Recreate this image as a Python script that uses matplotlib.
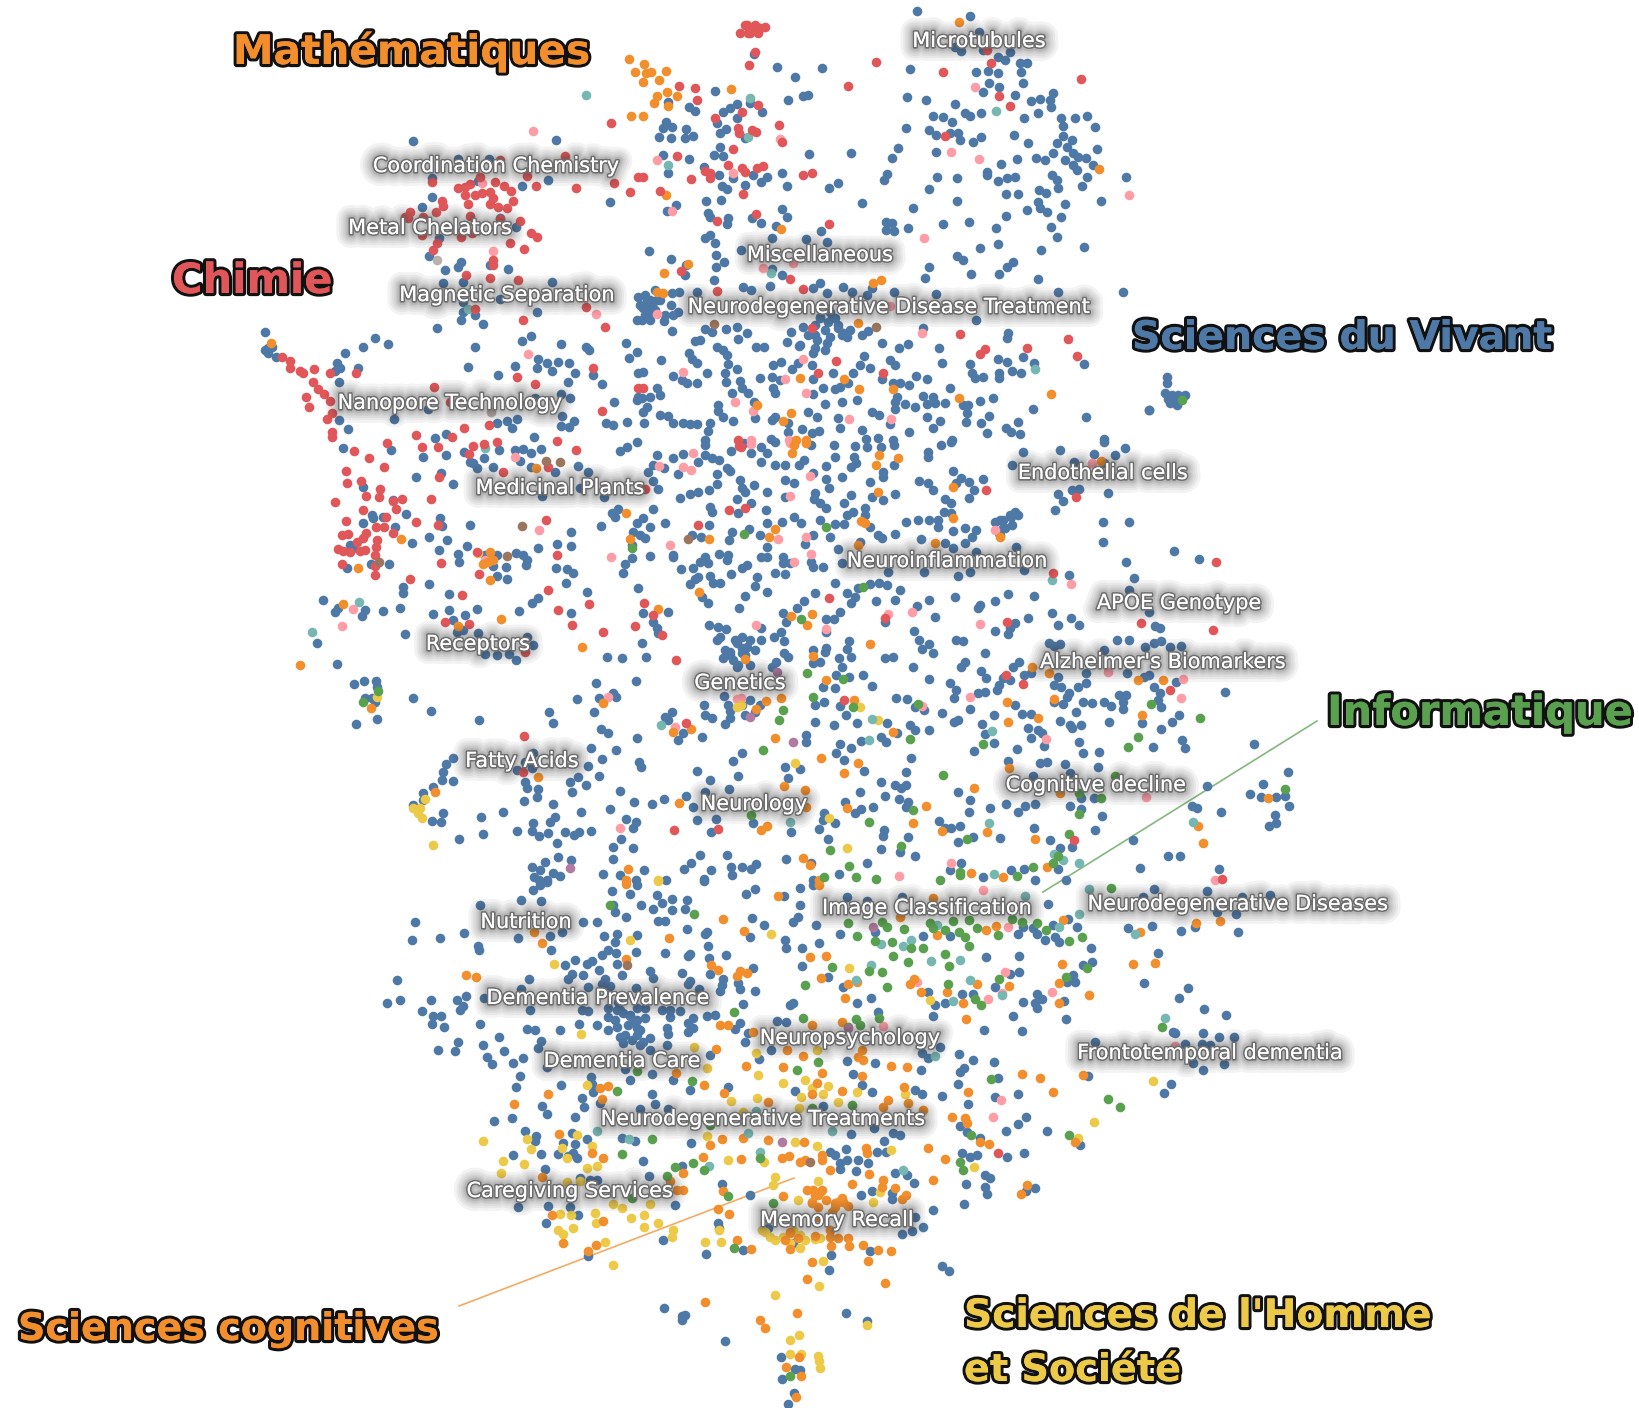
import matplotlib
matplotlib.use("Agg")
import matplotlib.pyplot as plt
import matplotlib.patheffects as pe

# ------------------------------ Data --------------------------------
# Points are read off six windows of the map: each list holds (x, y) as read
# in its window, WINDOWS says how to bring it back to map units.

WINDOWS = {
    "a": dict(ox=150, oy=0, sx=3, sy=3, xmin=0, xmax=640, ymin=0, ymax=440),
    "b": dict(ox=640, oy=0, sx=3, sy=3, xmin=640, xmax=1639, ymin=0, ymax=440),
    "c": dict(ox=240, oy=440, sx=3, sy=3, xmin=0, xmax=740, ymin=440, ymax=880),
    "d": dict(ox=740, oy=440, sx=2.8, sy=3, xmin=740, xmax=1639, ymin=440, ymax=880),
    "e": dict(ox=360, oy=880, sx=3, sy=2.97, xmin=0, xmax=780, ymin=880, ymax=1408),
    "e2": dict(ox=360, oy=880, sx=3, sy=2.97, xmin=780, xmax=1639, ymin=1290, ymax=1408),
    "f": dict(ox=780, oy=840, sx=3, sy=3, xmin=780, xmax=1639, ymin=880, ymax=1290),
    "g": dict(ox=1100, oy=280, sx=3, sy=3, xmin=0, xmax=1639, ymin=0, ymax=1408),
    "m": dict(ox=0, oy=0, sx=1, sy=1, xmin=0, xmax=1639, ymin=0, ymax=1408),
}

blue_a = [(790,423),(1218,420),(925,478),(1018,478),(845,535),(985,543),(1195,541),(1116,558),(845,592),(816,620),(1380,605),(1050,655),(1097,680),(868,714),(838,767),(932,785),(925,800),(885,810),(1020,795),(1074,808),(878,850),(938,845),(1206,847),(1050,897),(940,905),(940,937),(975,944),(933,960),(1000,973),(860,985),(1161,935),(345,995),(675,1014),(713,1031),(640,1040),(585,1058),(355,1045),(345,1050),(365,1040),(355,1060),(378,1072),(560,1090),(555,1112),(570,1105),(625,1103),(568,1145),(976,1040),(1115,1024),(1143,1008),(1234,1033),(1308,1042),(1316,1050),(1428,1029),(1461,1056),(1436,1075),(1165,1078),(1190,1090),(1160,1105),(1205,1112),(1225,1085),(1257,1090),(955,1100),(1045,1125),(1095,1098),(1275,1120),(1255,1145),(1330,1125),(1355,1153),(1391,1207),(1260,1195),(1232,1182),(1235,1248),(1272,1262),(1232,1277),(1258,1280),(1100,1258),(1072,1262),(1040,1270),(1085,1285),(566,1259),(594,1288),(732,1258),(855,1314),(888,1303),(1151,1312),(833,1228),(1155,1195),(1367,1270),(1390,1275),(1430,1265),(1462,1322),(1430,1340),(1410,1345),(578,1342),(720,1347),(1050,1345),(1095,1347),(1170,1345),(1465,890),(1460,960),(1465,1118),(1460,1200),(1465,1190)]
red_a = [(1382,370),(1245,468),(1050,480),(845,545),(990,530),(925,565),(945,560),(960,553),(1036,546),(1063,558),(1082,572),(945,585),(975,585),(995,580),(1020,575),(1030,595),(1090,602),(955,612),(1020,612),(1045,622),(1072,625),(875,602),(880,618),(858,637),(780,635),(765,650),(775,655),(820,652),(960,648),(1050,658),(1110,664),(815,705),(932,712),(965,700),(1143,700),(1162,712),(1080,728),(1122,748),(860,730),(850,750),(1030,780),(1028,795),(947,824),(1020,834),(1105,840),(975,927),(1120,960),(1365,982),(1308,920),(1158,557),(1278,563),(1130,528),(1392,550),(1465,532),(1441,576),(395,1070),(420,1082),(420,1105),(450,1112),(458,1118),(492,1107),(540,1120),(618,1118),(488,1145),(505,1167),(522,1182),(468,1190),(540,1202),(478,1222),(545,1238),(530,1257),(545,1295),(545,1312),(852,1160),(1328,1105),(1102,1130),(1155,1152),(1465,1165),(1355,1233),(1017,1275),(942,1285),(798,1305),(907,1312),(708,1328),(815,1340),(862,1338),(968,1338),(1002,1332),(1042,1325),(1222,1320),(900,1205)]
orange_a = [(1436,177),(1455,215),(1444,347),(362,1028)]
teal_a = [(1307,284),(953,927)]
pink_a = [(1148,394),(995,550),(1030,752),(1338,942),(1135,1062)]
gray_a = [(862,781),(1022,1237)]

blue_b = [(830,34),(990,47),(1017,95),(945,140),(963,153),(1030,150),(1110,155),(1075,170),(1095,180),(1140,188),(1160,188),(342,163),(410,200),(545,204),(809,208),(1008,215),(1045,212),(1075,218),(1143,215),(464,232),(1148,250),(1048,250),(1078,262),(1030,275),(225,273),(490,288),(505,284),(443,300),(800,292),(859,299),(1125,285),(1240,278),(1172,302),(1200,298),(1230,300),(1232,322),(1195,340),(85,305),(148,320),(165,332),(290,312),(270,325),(250,335),(330,310),(365,335),(880,348),(910,352),(945,313),(935,365),(975,340),(990,348),(1023,340),(1153,353),(1262,355),(1305,353),(1340,348),(1268,378),(1366,380),(290,353),(232,370),(78,365),(70,385),(97,380),(138,388),(56,412),(93,415),(135,415),(158,407),(258,387),(240,400),(315,415),(240,440),(797,383),(867,390),(888,405),(930,398),(955,400),(960,420),(1023,412),(1122,406),(1000,427),(1165,430),(1270,408),(1297,420),(1252,430),(1282,442),(1372,448),(222,465),(250,468),(70,465),(148,478),(508,463),(634,458),(775,443),(755,474),(888,456),(1238,458),(1300,460),(1315,470),(1188,475),(1214,480),(1132,478),(1082,493),(1275,480),(1338,475),(1300,495),(1360,495),(1310,510),(193,500),(85,520),(238,525),(278,535),(338,525),(427,520),(380,532),(362,547),(740,522),(733,540),(892,530),(950,533),(1040,515),(1040,525),(1235,525),(1250,540),(1340,532),(1457,530),(1075,543),(1100,535),(1125,530),(245,558),(262,568),(316,555),(440,557),(594,548),(568,565),(866,568),(1255,563),(1327,557),(1097,583),(1135,581),(1198,570),(1218,580),(199,602),(243,600),(665,608),(951,603),(1193,605),(1275,611),(1382,602),(107,615),(80,634),(820,624),(425,628),(1200,625),(1220,637),(1160,631),(205,640),(210,650),(263,655),(260,672),(335,655),(362,668),(440,652),(1097,649),(1264,652),(738,665),(755,668),(738,690),(762,692),(805,685),(908,671),(988,667),(1068,685),(1232,680),(407,678),(543,693),(210,705),(195,715),(225,730),(395,715),(497,718),(560,725),(1250,712),(1019,745),(1075,733),(1332,741),(1203,750),(26,752),(302,750),(227,765),(92,776),(950,767),(968,779),(253,785),(228,800),(1120,786),(1100,802),(866,800),(139,796),(135,825),(395,808),(425,826),(222,840),(855,833),(994,822),(1076,822),(1194,837),(1449,876),(1254,875),(310,862),(333,870),(389,858),(540,850),(520,865),(560,878),(610,860),(635,875),(695,865),(680,885),(761,875),(888,882),(95,880),(118,875),(170,877),(20,900),(40,905),(10,925),(30,920),(50,900),(25,945),(93,915),(115,935),(100,945),(5,960),(72,964),(96,992),(540,950),(575,955),(595,975),(610,1000),(850,985),(1008,960),(1105,1000),(1100,1015),(195,988),(215,995),(258,988),(291,982),(320,1000),(295,1018),(452,995),(490,982),(683,992),(665,1005),(570,1010),(620,1012),(530,1020),(560,1030),(440,1027),(478,1037),(727,1029),(805,1031),(777,1044),(896,1045),(165,1024),(180,1020),(230,1040),(250,1050),(262,1065),(348,1040),(372,1040),(525,1045),(555,1050),(148,1060),(155,1078),(172,1090),(62,1079),(265,1093),(292,1108),(400,1095),(422,1085),(455,1108),(475,1090),(515,1095),(520,1060),(672,1068),(750,1080),(765,1095),(905,1090),(990,1092),(1073,1077),(1100,1085),(1150,1070),(1183,1088),(1332,1092),(660,1095),(690,1105),(200,1118),(100,1127),(125,1140),(140,1150),(170,1150),(255,1120),(258,1145),(300,1142),(360,1135),(395,1130),(420,1140),(580,1118),(640,1118),(725,1138),(827,1129),(860,1138),(995,1120),(1005,1135),(1030,1130),(1078,1118),(1078,1135),(1115,1113),(1143,1120),(10,1115),(50,1165),(305,1165),(400,1165),(405,1180),(520,1138),(520,1182),(550,1165),(585,1168),(600,1160),(625,1150),(758,1150),(780,1150),(807,1155),(929,1163),(60,1185),(30,1190),(5,1195),(325,1178),(275,1180),(850,1187),(880,1190),(605,1205),(650,1200),(772,1190),(765,1205),(765,1228),(795,1213),(825,1222),(860,1212),(885,1208),(915,1208),(970,1215),(985,1215),(1020,1203),(1060,1195),(235,1215),(235,1232),(342,1205),(555,1212),(20,1220),(10,1235),(1180,1228),(1338,1250),(1528,1230),(980,1240),(978,1265),(60,1245),(85,1248),(250,1252),(405,1250),(530,1250),(503,1235),(697,1235),(716,1245),(862,1250),(1047,1248),(1022,1268),(1135,1266),(12,1270),(100,1270),(130,1270),(150,1273),(170,1272),(210,1268),(278,1263),(345,1255),(395,1260),(595,1255),(445,1270),(900,1262),(880,1283),(205,1292),(445,1295),(487,1287),(515,1298),(538,1293),(600,1285),(665,1290),(750,1272),(807,1296),(1042,1298),(1098,1283),(1112,1295),(1141,1303),(678,1318),(713,1315),(760,1319),(195,1319),(392,1318),(1392,1318),(935,1319)]
red_b = [(320,75),(340,85),(360,85),(300,100),(330,100),(345,155),(328,195),(707,187),(910,215),(625,258),(118,258),(165,265),(172,300),(1053,190),(1040,150),(1077,288),(1110,318),(1322,236),(355,315),(305,337),(225,355),(418,376),(293,385),(298,400),(335,390),(348,397),(425,425),(915,408),(280,447),(112,468),(8,532),(195,513),(210,520),(210,535),(152,537),(265,495),(305,505),(315,515),(350,505),(368,498),(490,525),(517,520),(60,573),(310,582),(347,642),(232,663),(568,672),(123,813),(450,836),(230,872),(488,867),(515,983),(961,1002),(1283,1016),(1020,1062),(1035,1048),(1162,1044),(1312,1069),(587,1083),(535,1120),(730,1120),(8,1165),(295,1319)]
orange_b = [(13,193),(18,218),(33,217),(79,212),(57,240),(8,247),(82,275),(50,287),(112,287),(43,310),(85,318),(8,347),(272,268),(956,66),(1377,507),(77,585),(422,687),(143,793),(73,820),(723,840),(698,850),(50,875),(68,880),(655,970),(480,1133),(658,1167),(760,1168),(958,1193),(1232,1181),(352,1215),(453,1240),(428,1262),(468,1319),(498,1319),(612,1138)]
teal_b = [(330,293),(83,495),(1068,333),(325,412),(392,818),(1185,1107)]
pink_b = [(50,480),(420,417),(280,518),(1005,260),(932,456),(1016,478),(1468,586),(95,632),(851,715),(370,805),(458,790),(50,942),(845,1000),(490,1076),(130,1117),(435,1137),(285,1207),(338,1232),(497,1178),(753,1258),(628,1258),(448,1319),(333,1319),(750,917)]
brown_b = [(222,972),(707,982)]

blue_c = [(308,25),(453,30),(548,50),(618,45),(673,37),(732,55),(778,30),(825,30),(850,28),(872,40),(902,28),(1140,32),(1162,20),(1192,5),(1250,45),(1330,42),(1396,15),(1472,32),(1300,55),(1395,45),(1375,65),(1415,55),(1437,60),(690,65),(700,70),(840,62),(872,80),(710,85),(760,80),(945,95),(1013,78),(1045,95),(1240,75),(1225,97),(1272,85),(1313,102),(1460,85),(1470,92),(1430,103),(603,100),(527,111),(640,133),(370,140),(1240,122),(1254,148),(1320,173),(1350,163),(1373,157),(1406,150),(1432,132),(1500,115),(1490,178),(905,168),(1093,172),(1020,145),(458,180),(1410,200),(1415,215),(1495,220),(1240,208),(1135,207),(1115,218),(1125,232),(395,225),(400,235),(497,222),(600,235),(605,258),(370,248),(430,232),(690,256),(1082,259),(1275,248),(1190,250),(1210,235),(1230,260),(1180,275),(1200,285),(1215,295),(1407,255),(465,262),(992,275),(1475,275),(1383,292),(1355,285),(1467,300),(568,290),(620,299),(515,310),(1175,315),(950,312),(993,318),(680,318),(895,325),(596,329),(330,315),(340,325),(655,343),(658,367),(735,345),(770,345),(828,340),(850,345),(860,360),(858,375),(1229,349),(1298,345),(1300,350),(1436,342),(1465,345),(1460,360),(1395,350),(1175,355),(1155,372),(1380,365),(1405,370),(392,372),(447,373),(322,385),(760,378),(798,382),(948,385),(980,388),(1000,400),(1148,398),(1322,386),(1360,383),(1375,410),(1510,385),(1525,375),(1473,402),(770,408),(800,417),(978,430),(1410,408),(1365,418),(1350,432),(1420,430),(1440,428),(567,432),(490,442),(490,460),(1195,445),(628,461),(1040,457),(1545,438),(1515,468),(895,475),(877,489),(248,479),(285,515),(295,505),(375,510),(365,527),(429,513),(480,505),(628,509),(712,508),(837,513),(994,519),(1285,515),(1210,518),(578,523),(640,540),(675,525),(1385,470),(1405,490),(1497,505),(1240,545),(1250,565),(1255,580),(1408,555),(1435,560),(1458,568),(1440,590),(1430,600),(495,583),(650,575),(670,570),(715,578),(860,590),(878,615),(1205,610),(735,643),(772,645),(808,642),(1102,650),(1145,655),(1217,650),(827,661),(290,671),(231,608),(1515,590),(1490,610),(1525,620),(1470,635),(1450,655),(1480,660),(1500,640),(1540,640),(1490,680),(1520,680),(1067,730),(1187,723),(342,733),(373,724),(408,724),(410,740),(375,773),(395,775),(405,785),(518,775),(1012,776),(1078,773),(1118,760),(1128,772),(1452,768),(1465,795),(1470,812),(1510,785),(1530,800),(1500,820),(574,814),(928,817),(1063,817),(1392,796),(1395,825),(1415,833),(716,841),(939,849),(347,851),(412,838),(1275,830),(1295,815),(1285,840),(1455,852),(1470,835),(1083,868),(1103,878),(1330,878),(1190,893),(1387,890),(1315,900),(1052,923),(1129,931),(640,953),(618,972),(880,940),(1507,938),(1480,963),(1087,957),(1043,977),(1198,965),(1203,982),(1370,992),(610,995),(830,990),(855,965),(875,985),(1078,1008),(1015,1010),(1495,1009),(1411,1020),(990,1025),(605,1020),(638,1023),(580,1040),(855,1025),(860,1045),(1037,1036),(893,1048),(1140,1052),(1467,1048),(1395,1055),(997,1057),(550,1060),(550,1080),(890,1070),(1337,1069),(1272,1076),(520,1095),(852,1082),(940,1092),(1183,1085),(1235,1092),(1358,1102),(790,1115),(1023,1117),(1110,1108),(608,1118),(722,1130),(1370,1139),(1428,1137),(880,1150),(945,1130),(930,1145),(1158,1138),(1188,1145),(575,1142),(604,1145),(1180,1165),(1540,1150),(832,1172),(875,1172),(898,1187),(923,1180),(975,1175),(1002,1185),(1018,1175),(1052,1172),(1413,1175),(730,1183),(657,1198),(1142,1197),(950,1208),(1118,1220),(1178,1224),(955,1250),(915,1265),(992,1260),(1380,1245),(1460,1245),(1118,1258),(1353,1270),(875,1282),(900,1290),(1332,1288),(1412,1290),(1472,1282),(1502,1275),(940,1298),(960,1308),(1088,1303),(1140,1305),(1212,1290),(883,1310),(920,1319),(1278,1319),(1392,1318),(1475,1305),(1188,1319),(898,1319)]
red_c = [(342,33),(386,55),(440,8),(433,80),(545,20),(593,20),(700,18),(733,12),(688,42),(770,5),(952,3),(1009,30),(1497,18),(318,93),(320,130),(362,122),(420,148),(377,167),(417,172),(460,183),(485,178),(467,207),(286,187),(572,176),(598,110),(790,95),(925,82),(1215,148),(370,210),(317,242),(438,232),(408,262),(432,260),(527,247),(593,254),(460,278),(918,240),(1373,254),(1468,209),(305,285),(325,282),(378,278),(370,295),(350,305),(410,300),(295,328),(310,333),(330,335),(360,333),(375,330),(407,322),(405,345),(950,345),(710,335),(603,369),(307,372),(405,377),(406,405),(718,402),(509,416),(925,450),(665,465),(955,510),(1048,492),(1213,490),(1238,525),(615,547),(688,552),(997,555),(1185,558),(1090,577),(1265,585),(1309,661),(855,635),(1338,848),(853,887),(848,995),(1302,1170),(1435,1167),(1517,202)]
orange_c = [(888,85),(1158,218),(483,296),(353,384),(1170,297),(750,335),(745,365),(728,372),(760,360),(750,419),(1408,297),(1377,457),(310,493),(1254,507),(782,538),(655,557),(1027,621),(180,676),(1517,656),(392,805),(1088,788),(1298,876),(1352,867),(1318,1089),(585,1055),(893,1012),(1165,1286),(1157,1319)]
yellow_c = [(715,338),(412,770),(1492,800),(520,1105),(540,1105),(555,1078),(535,1120),(545,1135),(578,1214),(1254,1319)]
green_c = [(413,753),(370,787),(1177,325),(1513,282),(1537,1125)]
teal_c = [(735,25),(357,487),(215,577),(1263,855)]
pink_c = [(825,50),(1360,38),(1533,12),(1257,78),(1328,80),(1352,90),(896,271),(1290,315),(1112,351),(735,360),(338,507),(305,559),(1103,770),(1490,778),(1305,862),(1140,1165),(1550,555)]
brown_c = [(917,62),(961,67),(845,259),(1345,298),(802,347),(417,365)]
purple_c = [(1530,830),(990,1283)]

blue_d = [(1020,5),(895,30),(1077,25),(793,37),(990,42),(1050,45),(935,65),(1020,70),(10,10),(60,20),(97,5),(200,15),(263,15),(322,18),(355,20),(396,20),(430,15),(562,15),(590,5),(30,40),(75,40),(60,65),(527,35),(525,50),(265,50),(320,50),(180,60),(165,75),(97,75),(127,75),(240,78),(430,75),(762,75),(595,92),(400,95),(400,110),(285,110),(325,70),(310,80),(205,100),(240,118),(125,120),(620,115),(605,130),(640,125),(680,118),(500,122),(525,130),(540,150),(150,130),(363,125),(0,120),(40,135),(5,145),(75,155),(15,155),(655,150),(640,175),(890,163),(930,150),(950,147),(1030,158),(433,162),(370,170),(125,170),(210,160),(310,165),(400,180),(250,145),(207,178),(225,190),(240,205),(290,190),(30,190),(905,183),(575,178),(590,188),(72,210),(882,210),(570,215),(590,220),(770,215),(350,205),(315,215),(300,225),(350,225),(760,230),(715,245),(735,240),(1016,247),(1090,246),(152,232),(170,250),(118,246),(75,250),(225,240),(265,253),(290,253),(465,247),(497,240),(530,240),(555,240),(555,260),(595,272),(630,263),(660,270),(650,290),(735,265),(725,280),(365,260),(385,285),(397,295),(435,283),(25,268),(55,285),(205,285),(252,290),(508,296),(1016,307),(335,305),(182,313),(575,310),(595,325),(630,310),(772,320),(1216,333),(75,322),(275,328),(660,335),(60,350),(120,350),(120,370),(75,350),(140,368),(200,365),(205,380),(232,382),(285,370),(1286,358),(1080,367),(20,375),(5,385),(415,395),(515,397),(98,398),(125,402),(610,408),(645,395),(795,390),(920,405),(1104,415),(48,412),(42,437),(265,430),(412,435),(365,432),(388,428),(330,445),(448,450),(75,455),(210,460),(300,460),(322,470),(15,468),(603,470),(715,483),(750,463),(823,468),(1090,450),(180,483),(310,490),(380,483),(433,480),(495,497),(530,480),(672,495),(665,505),(160,503),(280,515),(120,518),(1145,517),(873,520),(927,533),(130,545),(240,538),(262,538),(547,532),(405,545),(805,533),(890,556),(950,556),(770,550),(1162,558),(1177,565),(488,574),(715,574),(755,565),(750,582),(60,565),(240,575),(115,575),(95,590),(60,600),(5,590),(1055,600),(1090,600),(605,600),(625,603),(500,600),(865,610),(895,612),(880,618),(1178,602),(1160,610),(1135,620),(1205,620),(1235,618),(305,603),(530,612),(510,627),(122,603),(540,638),(240,625),(238,635),(203,630),(300,628),(1020,630),(685,640),(310,650),(122,640),(135,650),(405,653),(428,652),(20,620),(5,640),(278,653),(100,665),(90,680),(225,665),(205,668),(630,665),(620,680),(285,680),(485,680),(780,665),(765,680),(675,693),(690,715),(345,705),(270,705),(305,710),(795,705),(815,700),(890,710),(970,700),(1083,698),(1145,705),(1130,712),(1220,725),(1357,757),(530,716),(587,728),(735,715),(725,735),(755,720),(880,735),(900,742),(945,740),(970,728),(370,737),(232,741),(265,745),(605,750),(600,775),(665,760),(685,755),(720,750),(920,760),(1160,740),(1175,760),(437,775),(467,778),(915,770),(1060,765),(1080,765),(1072,785),(770,795),(960,785),(985,790),(1020,785),(1040,798),(880,785),(905,793),(210,795),(235,785),(280,797),(490,800),(515,810),(645,808),(1170,780),(1180,800),(790,822),(815,822),(940,815),(1072,808),(298,825),(565,820),(712,825),(1230,825),(610,840),(600,845),(1210,845),(210,845),(328,848),(895,843),(1033,845),(925,855),(955,855),(805,863),(930,865),(262,854),(412,850),(678,853),(475,855),(490,870),(530,870),(835,870),(1125,850),(1180,867),(685,882),(845,880),(440,880),(185,885),(185,905),(395,890),(410,905),(340,903),(815,895),(948,907),(1238,900),(1245,925),(1440,912),(280,912),(310,925),(712,910),(850,917),(1155,920),(655,932),(775,928),(270,938),(5,938),(960,940),(1005,937),(290,960),(478,955),(750,963),(840,970),(860,965),(910,972),(125,980),(167,988),(1003,982),(348,992),(465,997),(135,1015),(820,1008),(925,1000),(1533,995),(395,1025),(435,1035),(465,1035),(450,1045),(1307,1037),(337,1057),(405,1067),(610,1057),(1465,1033),(1428,1062),(1458,1070),(1500,1072),(1525,1068),(955,1075),(990,1075),(445,1078),(470,1085),(295,1087),(645,1080),(373,1100),(465,1100),(745,1092),(797,1097),(825,1092),(700,1103),(925,1098),(1265,1098),(1280,1105),(1538,1097),(340,1108),(322,1118),(640,1117),(778,1115),(955,1108),(1348,1117),(1013,1128),(1498,1125),(235,1120),(232,1140),(265,1148),(35,1150),(557,1142),(1480,1157),(1500,1150),(575,1163),(590,1165),(615,1158),(220,1168),(143,1175),(403,1170),(822,1163),(993,1170),(400,1188),(470,1190),(610,1205),(653,1192),(728,1195),(868,1200),(245,1197),(1100,1200),(395,1228),(930,1222),(897,1225),(447,1235),(490,1248),(130,1256),(1197,1248),(1233,1248),(1120,1284),(200,1270),(355,1270),(45,1272),(30,1288),(5,1280),(587,1290),(620,1270),(680,1310),(760,1290),(795,1288),(277,1303),(890,1288),(1340,1288),(913,1319),(205,1319),(825,1319)]
red_d = [(15,203),(690,150),(940,172),(875,400),(250,475),(1332,367),(405,535),(747,545),(1122,550),(1325,570),(745,705),(792,733),(1205,750),(290,780),(935,1200),(2,20),(1350,1318)]
orange_d = [(150,15),(185,10),(390,45),(443,55),(380,75),(145,40),(385,155),(597,140),(597,235),(340,242),(350,250),(97,268),(80,292),(545,310),(1012,63),(728,290),(330,315),(143,527),(202,522),(188,554),(365,613),(205,647),(15,657),(817,680),(865,700),(1115,720),(1185,720),(242,721),(72,782),(115,775),(45,808),(320,780),(880,778),(748,787),(835,835),(750,846),(1125,825),(97,893),(428,875),(228,955),(330,968),(292,999),(752,985),(123,1037),(183,1049),(655,1045),(895,1060),(300,1105),(520,1097),(485,1150),(565,1172),(692,1175),(827,1196),(1283,1157),(1295,1210),(75,1158),(60,1170),(1478,1073),(175,1255),(195,1275),(647,1300),(737,1312),(860,1280),(222,1319),(185,1100)]
green_d = [(12,282),(240,262),(345,440),(172,537),(188,700),(287,716),(205,770),(497,793),(317,800),(120,810),(110,840),(475,898),(65,930),(1150,793),(1287,835),(1115,890),(1087,920),(680,912),(1050,1007),(567,1004),(948,1060),(1010,1075),(485,1111),(362,1146),(948,1122),(30,1125),(920,1183),(635,1197),(450,1218),(252,1230),(305,1278),(890,1248),(875,1270),(820,1280),(775,1308),(615,1295),(615,1305),(235,1310),(325,1310),(382,1317),(560,1319),(1525,1047)]
yellow_d = [(335,800),(385,840),(153,970),(250,1135),(300,1225),(2,795)]
teal_d = [(873,420),(370,838),(362,900),(705,873),(140,1145),(697,1150),(1268,1145),(880,1243),(903,1260),(950,1268),(710,1303)]
pink_d = [(30,12),(140,10),(195,108),(140,168),(185,292),(105,297),(200,343),(150,365),(45,555),(240,567),(415,522),(481,516),(927,431),(673,551),(2,775),(510,797),(643,772),(1030,695),(1240,718),(1235,775),(857,897),(1138,1070),(445,1308),(590,1268),(985,70),(715,270),(1330,1319)]
purple_d = [(103,697),(28,830),(147,906)]

blue_e = [(520,30),(540,15),(560,5),(755,33),(830,15),(810,42),(890,45),(905,68),(935,55),(975,85),(980,60),(1033,3),(1157,42),(1185,28),(361,73),(482,58),(543,63),(760,75),(765,95),(842,74),(880,87),(935,88),(165,124),(670,124),(710,124),(798,110),(893,122),(915,123),(1040,155),(1035,160),(980,145),(1177,113),(1213,135),(733,167),(770,160),(830,164),(155,177),(240,172),(313,157),(474,173),(570,165),(605,155),(765,185),(1170,168),(355,195),(357,208),(573,207),(745,208),(725,222),(767,217),(827,214),(915,217),(1045,197),(990,220),(985,225),(1047,233),(1098,222),(645,238),(615,252),(680,250),(695,240),(770,248),(718,266),(1180,260),(870,270),(880,290),(965,277),(635,280),(625,295),(668,282),(785,283),(1050,280),(112,296),(507,294),(735,295),(1088,295),(990,300),(985,310),(1085,312),(1135,305),(1140,325),(725,310),(750,315),(685,318),(1185,330),(1080,330),(828,320),(482,323),(1018,325),(80,366),(120,355),(213,356),(290,355),(318,346),(372,350),(1150,368),(510,385),(665,385),(685,390),(770,385),(790,395),(830,380),(855,380),(905,385),(930,385),(960,390),(185,390),(300,385),(308,375),(810,405),(830,415),(930,408),(745,406),(1000,410),(1040,405),(1065,402),(1140,425),(243,405),(220,405),(1250,420),(217,427),(360,428),(658,428),(712,431),(1125,443),(985,425),(252,438),(500,442),(525,446),(600,446),(745,445),(772,437),(830,440),(920,440),(1000,440),(925,458),(985,450),(830,460),(1165,453),(418,466),(780,465),(850,480),(543,478),(295,482),(368,490),(790,485),(1155,482),(922,490),(533,500),(433,508),(233,504),(285,508),(870,505),(1233,505),(380,525),(488,530),(460,543),(397,547),(1050,521),(1197,533),(560,555),(795,560),(481,583),(692,585),(875,576),(810,594),(938,593),(603,608),(467,616),(695,605),(700,630),(1103,615),(990,623),(665,648),(877,637),(885,665),(545,670),(672,675),(720,663),(560,695),(645,703),(455,706),(403,716),(925,680),(840,680),(495,745),(635,752),(527,760),(525,775),(680,770),(785,765),(825,775),(610,780),(645,785),(992,782),(458,816),(543,815),(595,813),(640,810),(625,820),(650,825),(850,836),(555,857),(965,850),(867,880),(660,885),(690,890),(710,890),(1085,902),(1170,936),(565,967),(630,970),(655,995),(945,964),(475,972),(558,1020),(1075,1020),(1078,1035),(910,1068),(1148,1100),(685,1118),(1039,1110),(1225,1035),(912,1272),(965,1295),(975,1292),(965,1308),(1095,1370)]
blue_e2 = [(1457,1285),(1522,1310),(1263,1418),(1305,1452),(1320,1456),(1265,1482),(1303,1523),(1283,1555)]
orange_e = [(797,12),(1253,47),(1090,117),(1152,152),(928,171),(545,187),(522,155),(317,283),(348,288),(797,235),(1052,253),(1075,268),(1130,285),(1140,270),(1162,275),(1080,430),(1105,432),(1178,450),(1068,503),(1157,552),(948,572),(1032,610),(720,618),(745,612),(1093,632),(565,637),(727,650),(463,665),(1225,658),(596,753),(1085,770),(1148,765),(1225,772),(1050,788),(697,810),(728,827),(1028,823),(1143,828),(968,922),(950,922),(545,883),(968,870),(930,895),(1090,925),(1075,977),(1108,993),(575,995),(730,1012),(1130,1068),(1173,1096),(708,1085),(683,1103),(608,1077),(1035,1254),(1200,1307),(1215,1332)]
orange_e2 = [(1312,1286),(1318,1416),(1277,1445),(1322,1472),(1308,1535)]
yellow_e = [(895,3),(810,177),(1232,160),(583,249),(662,457),(1002,495),(1188,513),(1040,557),(1195,579),(680,610),(1112,657),(1192,648),(1150,690),(500,768),(368,776),(650,757),(1040,761),(513,800),(605,795),(697,790),(428,836),(493,843),(620,825),(680,855),(710,848),(422,870),(1103,832),(1212,838),(1245,882),(1240,907),(622,898),(660,893),(760,962),(785,973),(870,963),(600,992),(632,995),(705,988),(853,996),(812,1005),(893,1018),(708,1018),(852,1032),(595,1040),(610,1050),(640,1035),(935,1060),(940,1040),(735,1075),(1035,1076),(1083,1075),(1077,1040),(1205,1040),(1230,1060),(1245,1233),(758,1142)]
yellow_e2 = [(1290,1365),(1317,1352),(1290,1407),(1323,1408),(1375,1415),(1378,1430),(1381,1450),(1520,1323)]
green_e = [(750,73),(1003,100),(1122,393),(830,568),(995,597),(772,627),(877,768),(785,815),(945,853),(998,840),(1032,860),(922,880),(1105,940),(1240,960),(1123,1093),(1200,825),(1050,728),(815,945)]
green_e2 = [(1290,1473)]
teal_e = [(710,744),(807,770),(1165,750),(1187,685),(1200,808),(1048,850)]
brown_e = [(800,252)]

blue_f = [(60,143),(100,135),(200,170),(260,182),(365,172),(12,168),(60,195),(1122,147),(1282,152),(803,192),(1090,170),(1470,165),(1385,170),(55,230),(40,247),(108,255),(180,282),(285,275),(430,288),(510,288),(715,282),(730,260),(760,265),(770,283),(820,255),(865,238),(890,262),(795,300),(825,290),(838,305),(1045,263),(1115,258),(1202,272),(1245,262),(1373,275),(1367,222),(1310,215),(15,300),(18,325),(65,323),(118,310),(933,325),(617,350),(718,349),(1133,340),(65,378),(908,375),(935,367),(143,412),(188,440),(690,402),(717,395),(880,405),(860,425),(885,425),(1092,428),(443,457),(645,440),(578,462),(545,462),(1223,445),(232,490),(272,473),(465,495),(495,490),(770,462),(785,478),(765,490),(730,487),(1198,475),(852,482),(40,490),(30,495),(1273,508),(293,515),(458,528),(698,528),(772,505),(1338,524),(858,537),(18,547),(612,571),(727,574),(1180,575),(1185,580),(1268,580),(1318,592),(1362,590),(945,605),(1215,612),(1265,612),(1290,615),(480,622),(425,640),(445,655),(538,643),(580,660),(643,665),(1240,668),(1270,690),(1333,672),(553,683),(540,695),(202,663),(285,668),(422,690),(218,703),(655,715),(925,708),(534,733),(1173,732),(1153,760),(45,752),(245,735),(275,755),(405,750),(425,762),(486,767),(713,763),(645,772),(563,793),(130,798),(340,880),(360,885),(312,902),(802,872),(738,832),(715,853),(677,873),(540,857),(560,875),(600,895),(545,938),(570,950),(590,945),(680,950),(732,938),(900,915),(213,883),(283,865),(198,928),(150,935),(165,945),(235,960),(265,970),(290,935),(318,935),(200,960),(180,968),(180,988),(228,993),(345,1000),(380,1005),(403,1030),(615,1005),(630,1015),(557,1033),(615,1040),(620,1063),(765,1045),(738,1053),(242,1065),(275,1052),(335,1060),(335,1078),(553,1091),(458,1110),(405,1130),(395,1172),(430,1162),(367,1182),(40,1208),(270,1232),(153,1245),(147,1290),(485,1278),(507,1292)]
orange_f = [(90,350),(138,347),(122,415),(205,432),(232,427),(195,473),(390,432),(402,418),(422,455),(500,455),(590,432),(688,438),(548,490),(838,490),(838,430),(847,373),(928,466),(557,538),(1060,373),(1125,370),(185,545),(95,555),(1320,243),(1248,250),(1080,277),(647,257),(617,270),(472,285),(850,240),(118,135),(460,175),(360,230),(20,630),(70,648),(235,650),(250,660),(245,630),(333,677),(380,680),(8,680),(125,698),(245,708),(110,730),(185,752),(95,762),(373,742),(325,780),(310,800),(383,790),(428,810),(517,830),(555,835),(560,848),(565,755),(726,702),(780,714),(818,757),(910,705),(600,905),(627,913),(884,905),(72,905),(28,948),(5,955),(60,965),(75,960),(125,945),(125,960),(258,925),(262,938),(445,925),(494,957),(150,990),(267,1003),(215,1033),(460,1020),(308,1020),(305,1040),(345,1045),(378,1065),(365,1078),(100,1050),(120,1055),(95,1085),(115,1065),(10,1068),(175,1085),(190,1085),(165,1100),(205,1195),(208,1217),(250,1216),(152,1218),(295,1230),(332,1234),(30,1228),(95,1265),(265,1263),(82,1318),(316,1328),(722,1062),(742,1035),(110,1130),(150,1190),(30,1180)]
green_f = [(205,248),(322,260),(373,267),(232,288),(285,303),(335,305),(392,325),(428,325),(340,347),(385,365),(495,343),(508,378),(155,382),(305,397),(268,392),(75,435),(322,440),(503,433),(585,478),(603,495),(658,417),(858,412),(920,383),(868,303),(907,290),(798,270),(725,245),(772,250),(695,237),(655,285),(590,265),(538,275),(555,290),(567,318),(518,243),(460,265),(495,270),(450,248),(568,240),(305,245),(70,533),(228,538),(298,533),(240,555),(205,560),(115,667),(52,689),(633,716),(1147,562),(983,776),(1020,800),(867,885),(573,885),(540,965),(550,990),(993,143),(215,795),(95,805),(285,205)]
teal_f = [(302,311),(393,300),(370,317),(454,363),(540,360),(570,420),(520,483),(273,375),(228,420),(838,262),(1065,282),(898,222),(927,148),(735,168),(470,255),(1155,533),(465,647),(155,873),(370,990),(665,465)]
pink_f = [(412,427),(675,397),(666,458),(625,476),(815,456),(683,260),(308,558),(610,150),(1185,618),(662,780),(640,830)]
red_f = [(655,940)]
yellow_f = [(208,385),(450,480),(1118,724),(943,847),(895,895),(582,980),(333,929),(75,720),(145,738),(95,745),(10,730),(63,770),(130,762),(232,757),(175,785),(375,762),(58,805),(110,917),(45,907),(115,1022),(55,1080),(300,1055),(278,1085),(105,1198),(130,1262),(117,1338),(10,1190),(40,1170),(60,1185),(110,630)]
purple_f = [(278,260),(5,905),(205,563)]
brown_f = [(90,965)]

blue_g = [(200,290),(200,310),(195,340),(215,345),(235,345),(255,345),(210,370),(230,375),(205,358),(225,358),(148,390)]
green_g = [(247,361)]

# the tight clumps, read directly in map units
blue_m = [(735,640),(742,648),(750,640),(730,655),(745,655),(755,650),(738,665),(750,665),(725,650),(742,705),(750,700),(755,712),(745,715),(760,705),(645,295),(650,300),(655,310),(645,315),(660,300),(640,305),(655,290),(665,315),(650,320),(820,318),(828,322),(835,318),(825,330),(838,328),(815,325),(830,312),(842,335),(850,330),(815,335),(800,345),(808,335),(620,1010),(630,1015),(635,1022),(628,1025),(640,1030),(625,1035),(645,1018),(615,1020),(632,1040),(640,1045),(650,1038),(618,1002),(608,1008),(1000,520),(1005,528),(1010,515),(1000,535),(1012,525),(1018,515)]
orange_m = [(807,1190),(815,1195),(822,1190),(812,1203),(826,1200),(818,1207),(835,1203),(842,1198),(848,1206),(832,1212),(790,1232),(798,1238),(815,1236),(830,1230),(838,1238),(785,1240)]
yellow_m = [(765,1232),(775,1240),(790,1243),(805,1240),(820,1238),(800,1248)]
red_m = [(745,25),(750,30),(755,25),(760,28),(765,27),(748,33),(758,33)]

# label text, map x (centre), map y
TOPIC_LABELS = [
    ("Microtubules", 979, 41), ("Coordination Chemistry", 496, 166),
    ("Metal Chelators", 430, 228), ("Magnetic Separation", 507, 295),
    ("Miscellaneous", 820, 255), ("Neurodegenerative Disease Treatment", 889, 307),
    ("Nanopore Technology", 450, 403), ("Medicinal Plants", 560, 488),
    ("Endothelial cells", 1103, 473), ("Neuroinflammation", 947, 561),
    ("APOE Genotype", 1179, 603), ("Alzheimer's Biomarkers", 1163, 662),
    ("Receptors", 478, 644), ("Genetics", 740, 683), ("Fatty Acids", 522, 761),
    ("Neurology", 754, 804), ("Cognitive decline", 1096, 785),
    ("Nutrition", 526, 922), ("Image Classification", 927, 908),
    ("Neurodegenerative Diseases", 1238, 904), ("Dementia Prevalence", 598, 998),
    ("Neuropsychology", 850, 1038), ("Dementia Care", 622, 1061),
    ("Frontotemporal dementia", 1210, 1053),
    ("Neurodegenerative Treatments", 763, 1119), ("Caregiving Services", 570, 1191),
    ("Memory Recall", 837, 1220),
]

# heading text, colour, left x, baseline y, size
HEADINGS = [
    ("Mathématiques", "#f28e2b", 233, 64, 29.3), ("Chimie", "#e15759", 172, 293, 30),
    ("Sciences du Vivant", "#4e79a7", 1132, 349, 28.4), ("Informatique", "#59a14f", 1327, 725, 30),
    ("Sciences cognitives", "#f28e2b", 18, 1340, 27.4),
    ("Sciences de l'Homme", "#edc948", 964, 1327, 28.2), ("et Société", "#edc948", 964, 1381, 27.5),
]

# ---------------------------- Helpers -------------------------------

def to_map(points, window):
    w = WINDOWS[window]
    out = []
    for x, y in points:
        mx = w["ox"] + x / w["sx"]
        my = w["oy"] + y / w["sy"]
        if w["xmin"] <= mx < w["xmax"] and w["ymin"] <= my < w["ymax"]:
            out.append((mx, my))
    return out

def draw(ax, color, **groups):
    pts = []
    for window, points in groups.items():
        pts += to_map(points, window)
    ax.scatter([p[0] for p in pts], [p[1] for p in pts], s=48, color=color,
               linewidths=0, zorder=2)

# ------------------------------ Main --------------------------------

fig = plt.figure(figsize=(16.39, 14.08), dpi=100)
ax = fig.add_axes([0, 0, 1, 1])
ax.set_xlim(0, 1639)
ax.set_ylim(1408, 0)
ax.axis("off")

draw(ax, "#4e79a7", a=blue_a, b=blue_b, c=blue_c, d=blue_d, e=blue_e, e2=blue_e2, f=blue_f, g=blue_g, m=blue_m)
draw(ax, "#ff9da7", a=pink_a, b=pink_b, c=pink_c, d=pink_d, f=pink_f)
draw(ax, "#edc948", c=yellow_c, d=yellow_d, e=yellow_e, e2=yellow_e2, f=yellow_f, m=yellow_m)
draw(ax, "#f28e2b", a=orange_a, b=orange_b, c=orange_c, d=orange_d, e=orange_e, e2=orange_e2, f=orange_f, m=orange_m)
draw(ax, "#76b7b2", a=teal_a, b=teal_b, c=teal_c, d=teal_d, e=teal_e, f=teal_f)
draw(ax, "#59a14f", c=green_c, d=green_d, e=green_e, e2=green_e2, f=green_f, g=green_g)
draw(ax, "#e15759", a=red_a, b=red_b, c=red_c, d=red_d, f=red_f, m=red_m)
draw(ax, "#9c755f", b=brown_b, c=brown_c, e=brown_e, f=brown_f)
draw(ax, "#b07aa1", c=purple_c, d=purple_d, f=purple_f)
draw(ax, "#bab0ac", a=gray_a)

ax.plot([1317, 1043], [721, 892], color="#59a14f", lw=1.2, alpha=0.75, zorder=1)
ax.plot([459, 794], [1306, 1178], color="#f28e2b", lw=1.2, alpha=0.75, zorder=1)

glow = [pe.withStroke(linewidth=w, foreground="#333333", alpha=0.06) for w in (20, 16, 13, 10, 8, 6, 5)]
glow += [pe.withStroke(linewidth=2.4, foreground="#6e6e6e"), pe.Normal()]
for text, x, y in TOPIC_LABELS:
    ax.text(x, y, text, ha="center", va="center", color="white", fontsize=15,
            family="DejaVu Sans", zorder=4, path_effects=glow)

outline = [pe.withStroke(linewidth=4.5, foreground="#111111"), pe.Normal()]
for text, color, x, y, size in HEADINGS:
    ax.text(x, y, text, ha="left", va="baseline", color=color, fontsize=size,
            family="DejaVu Sans", weight="bold", zorder=5, path_effects=outline)

fig.savefig("out.png", dpi=100)
